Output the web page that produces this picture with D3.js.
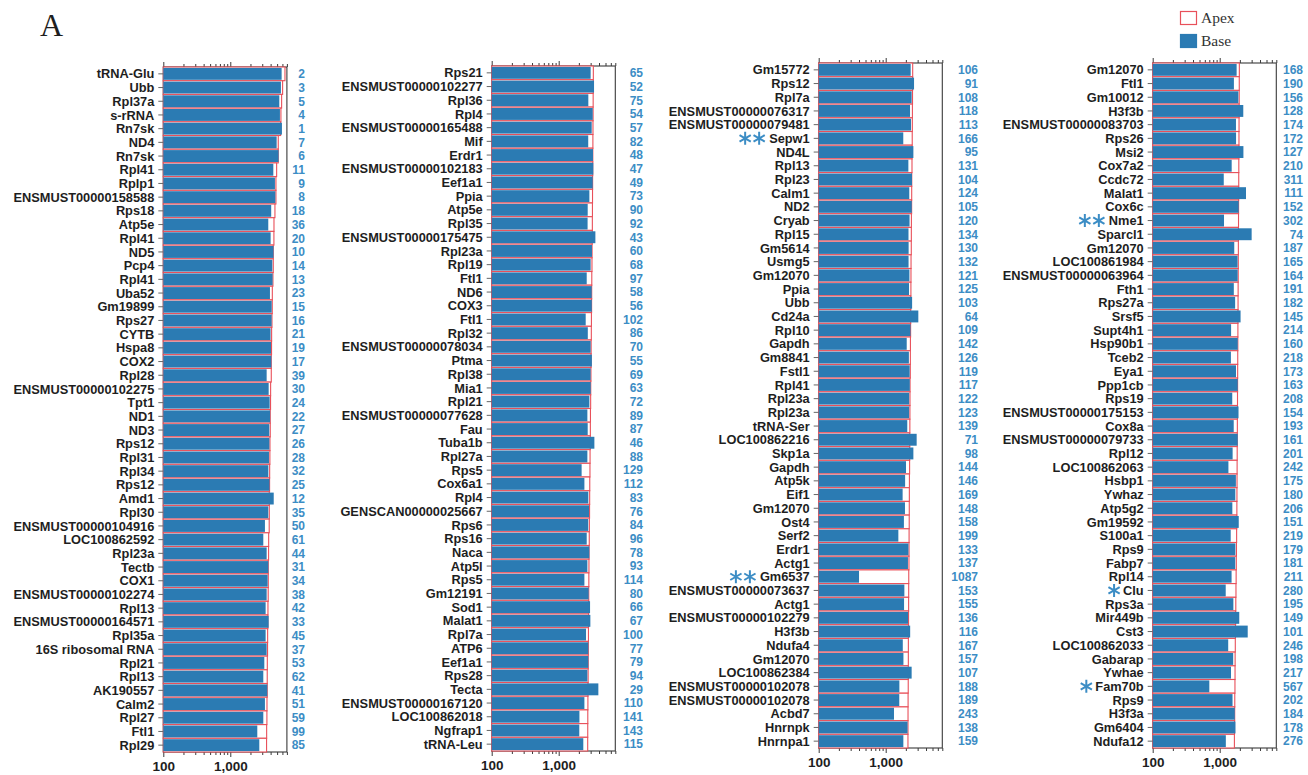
<!DOCTYPE html>
<html>
<head>
<meta charset="utf-8">
<script src="https://cdn.jsdelivr.net/npm/d3@7"></script>
<style>
  body { margin: 0; background: #fff; }
  svg { display: block; }
</style>
</head>
<body>
<svg id="chart" width="1308" height="775"></svg>
<script>
// ---- Data: four columns of transcripts, ordered by Apex read count ----
const genes1 = ["tRNA-Glu","Ubb","Rpl37a","s-rRNA","Rn7sk","ND4","Rn7sk","Rpl41","Rplp1","ENSMUST00000158588","Rps18","Atp5e","Rpl41","ND5","Pcp4","Rpl41","Uba52","Gm19899","Rps27","CYTB","Hspa8","COX2","Rpl28","ENSMUST00000102275","Tpt1","ND1","ND3","Rps12","Rpl31","Rpl34","Rps12","Amd1","Rpl30","ENSMUST00000104916","LOC100862592","Rpl23a","Tectb","COX1","ENSMUST00000102274","Rpl13","ENSMUST00000164571","Rpl35a","16S ribosomal RNA","Rpl21","Rpl13","AK190557","Calm2","Rpl27","Ftl1","Rpl29"];
const apex1 = [6550,6040,5840,5700,5640,5200,5200,4920,4800,4800,4640,4490,4480,4380,4380,4330,4240,4230,4190,4140,4130,4090,4090,4000,3990,3950,3950,3910,3900,3870,3860,3820,3820,3810,3740,3730,3690,3690,3680,3650,3640,3610,3600,3570,3560,3560,3530,3520,3490,3480];
const base1 = [5840,5700,5390,5510,5900,4920,5260,4390,4640,4700,4080,3690,4000,4420,4240,4280,3910,4150,4140,3990,4050,4100,3490,3740,3870,3930,3820,3830,3780,3700,3850,4450,3690,3290,3110,3490,3700,3610,3490,3370,3740,3370,3490,3220,3110,3570,3290,3110,2530,2710];
const rank1 = [2,3,5,4,1,7,6,11,9,8,18,36,20,10,14,13,23,15,16,21,19,17,39,30,24,22,27,26,28,32,25,12,35,50,61,44,31,34,38,42,33,45,37,53,62,41,51,59,99,85];

const genes2 = ["Rps21","ENSMUST00000102277","Rpl36","Rpl4","ENSMUST00000165488","Mif","Erdr1","ENSMUST00000102183","Eef1a1","Ppia","Atp5e","Rpl35","ENSMUST00000175475","Rpl23a","Rpl19","Ftl1","ND6","COX3","Ftl1","Rpl32","ENSMUST00000078034","Ptma","Rpl38","Mia1","Rpl21","ENSMUST00000077628","Fau","Tuba1b","Rpl27a","Rps5","Cox6a1","Rpl4","GENSCAN00000025667","Rps6","Rps16","Naca","Atp5l","Rps5","Gm12191","Sod1","Malat1","Rpl7a","ATP6","Eef1a1","Rps28","Tecta","ENSMUST00000167120","LOC100862018","Ngfrap1","tRNA-Leu"];
const apex2 = [3290,3280,3270,3260,3250,3240,3230,3220,3210,3200,3190,3180,3170,3150,3140,3120,3110,3100,3080,3070,3050,3040,3030,3010,3000,2980,2970,2960,2940,2930,2910,2900,2890,2870,2860,2840,2830,2820,2810,2800,2790,2780,2770,2760,2750,2740,2730,2720,2715,2710];
const base2 = [3000,3370,2770,3220,3110,2760,3250,3290,3220,2870,2710,2700,3530,3140,3000,2620,3110,3120,2530,2720,3000,3130,3000,3010,2870,2680,2710,3410,2680,2200,2420,2770,2840,2760,2620,2870,2680,2420,2800,2940,2970,2560,2770,2770,2680,3910,2420,2040,2030,2330];
const rank2 = [65,52,75,54,57,82,48,47,49,73,90,92,43,60,68,97,58,56,102,86,70,55,69,63,72,89,87,46,88,129,112,83,76,84,96,78,93,114,80,66,67,100,77,79,94,29,110,141,143,115];

const genes3 = ["Gm15772","Rps12","Rpl7a","ENSMUST00000076317","ENSMUST00000079481","Sepw1","ND4L","Rpl13","Rpl23","Calm1","ND2","Cryab","Rpl15","Gm5614","Usmg5","Gm12070","Ppia","Ubb","Cd24a","Rpl10","Gapdh","Gm8841","Fstl1","Rpl41","Rpl23a","Rpl23a","tRNA-Ser","LOC100862216","Skp1a","Gapdh","Atp5k","Eif1","Gm12070","Ost4","Serf2","Erdr1","Actg1","Gm6537","ENSMUST00000073637","Actg1","ENSMUST00000102279","H3f3b","Ndufa4","Gm12070","LOC100862384","ENSMUST00000102078","ENSMUST00000102078","Acbd7","Hnrnpk","Hnrnpa1"];
const apex3 = [2530,2520,2515,2505,2500,2490,2475,2470,2450,2445,2440,2420,2415,2410,2390,2385,2380,2365,2360,2355,2340,2335,2330,2310,2305,2300,2295,2285,2280,2275,2260,2255,2250,2245,2235,2230,2225,2210,2205,2200,2195,2185,2180,2178,2175,2170,2160,2155,2152,2150];
const base3 = [2360,2650,2440,2310,2390,1830,2590,2180,2470,2250,2450,2270,2190,2200,2195,2260,2230,2480,3070,2350,2060,2220,2280,2290,2240,2235,2100,2900,2590,2010,1950,1790,1940,1870,1545,2185,2150,400,1900,1880,2160,2320,1800,1840,2440,1600,1595,1330,2120,1835];
const rank3 = [106,91,108,118,113,166,95,131,104,124,105,120,134,130,132,121,125,103,64,109,142,126,119,117,122,123,139,71,98,144,146,169,148,158,199,133,137,1087,153,155,136,116,167,157,107,188,189,243,138,159];

const genes4 = ["Gm12070","Ftl1","Gm10012","H3f3b","ENSMUST00000083703","Rps26","Msi2","Cox7a2","Ccdc72","Malat1","Cox6c","Nme1","Sparcl1","Gm12070","LOC100861984","ENSMUST00000063964","Fth1","Rps27a","Srsf5","Supt4h1","Hsp90b1","Tceb2","Eya1","Ppp1cb","Rps19","ENSMUST00000175153","Cox8a","ENSMUST00000079733","Rpl12","LOC100862063","Hsbp1","Ywhaz","Atp5g2","Gm19592","S100a1","Rps9","Fabp7","Rpl14","Clu","Rps3a","Mir449b","Cst3","LOC100862033","Gabarap","Ywhae","Fam70b","Rps9","H3f3a","Gm6404","Ndufa12"];
const apex4 = [1965,1960,1955,1950,1945,1940,1935,1930,1925,1920,1915,1910,1905,1900,1895,1890,1885,1880,1875,1870,1865,1860,1855,1850,1845,1840,1835,1830,1825,1820,1815,1810,1805,1800,1790,1780,1770,1760,1750,1740,1730,1720,1710,1700,1695,1690,1680,1675,1665,1658];
const base4 = [1790,1630,1900,2250,1750,1755,2260,1510,1150,2470,1920,1160,3000,1650,1850,1855,1625,1700,2050,1480,1860,1470,1752,1858,1540,1910,1620,1860,1560,1350,1745,1710,1545,1925,1460,1715,1705,1505,1230,1600,1960,2620,1340,1590,1475,700,1555,1680,1720,1235];
const rank4 = [168,190,156,128,174,172,127,210,311,111,152,302,74,187,165,164,191,182,145,214,160,218,173,163,208,154,193,161,201,242,175,180,206,151,219,179,181,211,280,195,149,101,246,198,217,567,202,184,178,276];

// Significance marks drawn in front of the gene name
const starred = [["Sepw1", 2], ["Gm6537", 2], ["Nme1", 2], ["Clu", 1], ["Fam70b", 1]];

const minorTicks = [100,200,300,400,500,600,700,800,900,1000,2000,3000,4000,5000,6000,7000];
const tickLabels = {100: "100", 1000: "1,000"};
const seriesNames = ["Apex", "Base"];

// ---- Style / layout ----
const BLUE = "#2b7bb3";
const RED = "#e8505a";
const NUM_BLUE = "#3c8dc5";
const SANS = "'Liberation Sans', Arial, Helvetica, sans-serif";
const SERIF = "'Liberation Serif', 'Times New Roman', serif";
const plotW = 123.6;

const panels = [
  {genes: genes1, apex: apex1, base: base1, rank: rank1, left: 163.3, top: 67, bottom: 752, numX: 305},
  {genes: genes2, apex: apex2, base: base2, rank: rank2, left: 491.7, top: 66, bottom: 751, numX: 643},
  {genes: genes3, apex: apex3, base: base3, rank: rank3, left: 818.7, top: 63, bottom: 748, numX: 978},
  {genes: genes4, apex: apex4, base: base4, rank: rank4, left: 1152.7, top: 63, bottom: 748, numX: 1303}
];

const svg = d3.select("#chart");
const starMap = new Map(starred);

function asteriskPath(r) {
  let p = "";
  for (const a of [90, 30, -30]) {
    const t = a * Math.PI / 180, dx = r * Math.cos(t), dy = r * Math.sin(t);
    p += `M${(-dx).toFixed(2)},${(-dy).toFixed(2)}L${dx.toFixed(2)},${dy.toFixed(2)}`;
  }
  return p;
}

panels.forEach(p => {
  const g = svg.append("g");
  const n = p.genes.length;
  const x = d3.scaleLog().domain([100, 7000]).range([p.left, p.left + plotW]);
  const y = d3.scaleBand().domain(d3.range(n)).range([p.top, p.bottom]).padding(0);
  const bw = y.bandwidth();

  // frame
  g.append("rect")
    .attr("x", p.left).attr("y", p.top)
    .attr("width", plotW).attr("height", p.bottom - p.top)
    .attr("fill", "none").attr("stroke", "#3a3a3a").attr("stroke-width", 1.1);

  // top & bottom log axes (minor ticks, labels only at decades on the bottom)
  const top = g.append("g").attr("transform", `translate(0,${p.top})`)
    .call(d3.axisTop(x).tickValues(minorTicks).tickFormat("").tickSizeOuter(0).tickSizeInner(3));
  const bot = g.append("g").attr("transform", `translate(0,${p.bottom})`)
    .call(d3.axisBottom(x).tickValues(minorTicks)
      .tickFormat(d => tickLabels[d] || "").tickSizeOuter(0).tickSizeInner(3).tickPadding(6));
  [top, bot].forEach((ax, k) => {
    ax.select(".domain").remove();
    ax.selectAll(".tick line").attr("stroke", "#3a3a3a")
      .attr("y2", d => (tickLabels[d] ? 5 : 3) * (k === 0 ? -1 : 1));
  });
  bot.selectAll(".tick text")
    .attr("font-family", SANS).attr("font-weight", "bold")
    .attr("font-size", 13.5).attr("fill", "#1e1e1e");

  // Apex: white bars with red outline
  g.append("g").selectAll("rect").data(d3.range(n)).join("rect")
    .attr("x", x(100)).attr("y", i => y(i))
    .attr("width", i => x(p.apex[i]) - x(100)).attr("height", bw)
    .attr("fill", "#fff").attr("stroke", RED).attr("stroke-width", 1.1);

  // Base: filled blue bars
  g.append("g").selectAll("rect").data(d3.range(n)).join("rect")
    .attr("x", x(100)).attr("y", i => y(i) + 0.9)
    .attr("width", i => x(p.base[i]) - x(100)).attr("height", bw - 1.8)
    .attr("fill", BLUE);

  // category ticks on the left axis
  g.append("g").selectAll("line").data(d3.range(n)).join("line")
    .attr("x1", p.left - 5).attr("x2", p.left)
    .attr("y1", i => y(i) + bw / 2).attr("y2", i => y(i) + bw / 2)
    .attr("stroke", "#666").attr("stroke-width", 1);

  // gene names
  const labels = g.append("g").selectAll("text").data(d3.range(n)).join("text")
    .attr("x", p.left - 9).attr("y", i => y(i) + bw / 2).attr("dy", "0.36em")
    .attr("text-anchor", "end")
    .attr("font-family", SANS).attr("font-weight", "bold").attr("font-size", 12.8)
    .attr("fill", "#1e1e1e")
    .text(i => p.genes[i]);

  // significance asterisks
  labels.each(function (i) {
    const k = starMap.get(p.genes[i]);
    if (!k) return;
    const start = p.left - 9 - this.getComputedTextLength();
    const cy = y(i) + bw / 2;
    const offs = k === 2 ? [-24, -10] : [-9];
    offs.forEach(o => {
      g.append("path")
        .attr("transform", `translate(${start + o},${cy})`)
        .attr("d", asteriskPath(6.5))
        .attr("stroke", NUM_BLUE).attr("stroke-width", 2).attr("fill", "none");
    });
  });

  // Base rank numbers on the right
  g.append("g").selectAll("text").data(d3.range(n)).join("text")
    .attr("x", p.numX).attr("y", i => y(i) + bw / 2).attr("dy", "0.36em")
    .attr("text-anchor", "end")
    .attr("font-family", SANS).attr("font-weight", "bold").attr("font-size", 12)
    .attr("fill", NUM_BLUE)
    .text(i => p.rank[i]);
});

// panel letter
svg.append("text").attr("x", 40).attr("y", 36)
  .attr("font-family", SERIF).attr("font-size", 32).attr("fill", "#1e1e1e").text("A");

// legend
const leg = svg.append("g").attr("transform", "translate(1180,11)");
seriesNames.forEach((name, k) => {
  const row = leg.append("g").attr("transform", `translate(0,${k * 23})`);
  row.append("rect").attr("x", 0.5).attr("y", 0.5).attr("width", 16).attr("height", 13)
    .attr("fill", k === 0 ? "#fff" : BLUE)
    .attr("stroke", k === 0 ? RED : BLUE).attr("stroke-width", 1.2);
  row.append("text").attr("x", 21).attr("y", 7).attr("dy", "0.35em")
    .attr("font-family", SERIF).attr("font-size", 15.5).attr("fill", "#333").text(name);
});
</script>
</body>
</html>
